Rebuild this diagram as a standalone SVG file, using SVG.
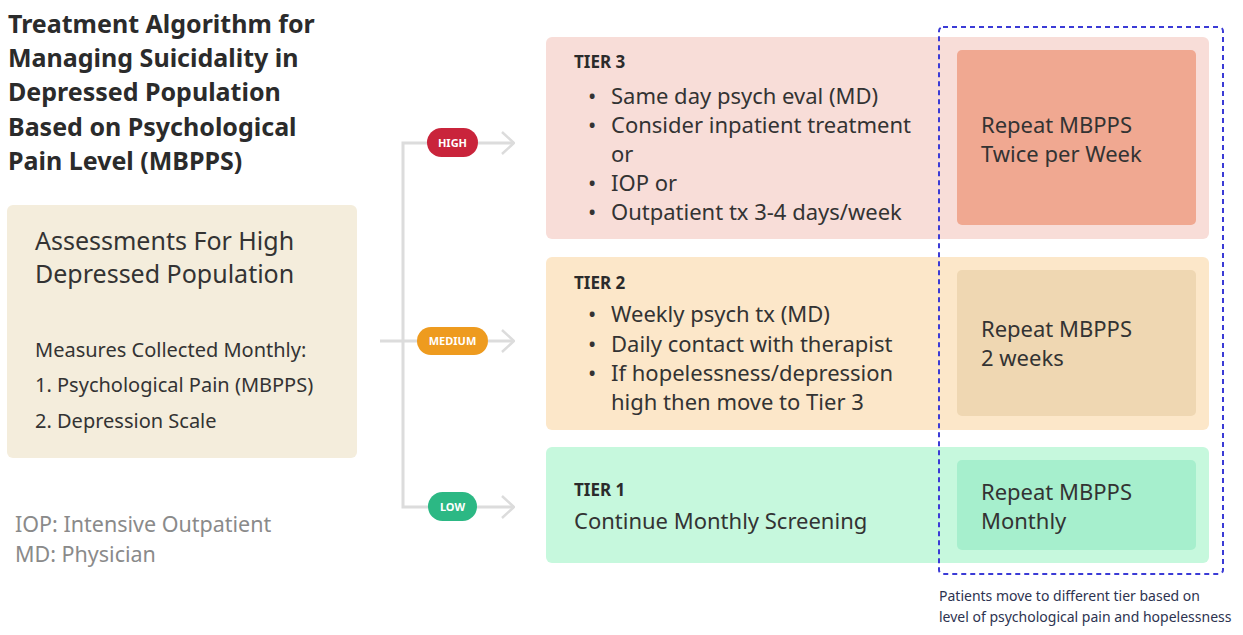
<svg xmlns="http://www.w3.org/2000/svg" width="1243" height="635" viewBox="0 0 1243 635">
<defs>
<style>
text{font-family:"Noto Sans","Open Sans","DejaVu Sans",sans-serif;fill:#333}
.title{font-size:25px;font-weight:700;fill:#2b2b2b}
.big{font-size:25px}
.mid{font-size:20px}
.legend{font-size:21.5px;fill:#8a8a8a}
.tier{font-size:17px;font-weight:700;fill:#2b2b2b}
.item{font-size:22px}
.pill{font-size:11px;font-weight:700;fill:#fff}
.foot{font-size:14px;fill:#2d3350}
.conn{stroke:#dcdcdc;stroke-width:3;fill:none}
</style>
<marker id="arr" viewBox="0 0 14 24" refX="13" refY="12" markerWidth="14" markerHeight="24" markerUnits="userSpaceOnUse" orient="auto">
<path d="M1,1 L13,12 L1,23" fill="none" stroke="#dcdcdc" stroke-width="2.5"/>
</marker>
</defs>
<rect width="1243" height="635" fill="#fff"/>

<g id="title">
<text class="title" x="8" y="33">Treatment Algorithm for</text>
<text class="title" x="8" y="67">Managing Suicidality in</text>
<text class="title" x="8" y="101">Depressed Population</text>
<text class="title" x="8" y="136">Based on Psychological</text>
<text class="title" x="8" y="170">Pain Level (MBPPS)</text>
</g>

<g id="assessment">
<rect x="7" y="205" width="350" height="253" rx="6" fill="#f4eddc"/>
<text class="big" x="35" y="250">Assessments For High</text>
<text class="big" x="35" y="283">Depressed Population</text>
<text class="mid" x="35" y="357">Measures Collected Monthly:</text>
<text class="mid" x="35" y="392">1. Psychological Pain (MBPPS)</text>
<text class="mid" x="35" y="428">2. Depression Scale</text>
</g>

<g id="legend">
<text class="legend" x="15" y="532">IOP: Intensive Outpatient</text>
<text class="legend" x="15" y="562">MD: Physician</text>
</g>

<g id="connectors">
<line class="conn" x1="380" y1="341" x2="420" y2="341"/>
<polyline class="conn" points="428,143 403,143 403,507 428,507"/>
<line class="conn" x1="478" y1="143" x2="514" y2="143" marker-end="url(#arr)"/>
<line class="conn" x1="488" y1="341" x2="514" y2="341" marker-end="url(#arr)"/>
<line class="conn" x1="477" y1="507" x2="514" y2="507" marker-end="url(#arr)"/>
</g>

<g id="pill-high">
<rect x="427" y="128" width="51" height="29" rx="14.5" fill="#c9243b"/>
<text class="pill" x="452.5" y="147" text-anchor="middle">HIGH</text>
</g>
<g id="pill-medium">
<rect x="417" y="327" width="71" height="28" rx="14" fill="#ee9b1f"/>
<text class="pill" x="452.5" y="345" text-anchor="middle">MEDIUM</text>
</g>
<g id="pill-low">
<rect x="428" y="492" width="49" height="29" rx="14.5" fill="#2cb884"/>
<text class="pill" x="452.5" y="511" text-anchor="middle">LOW</text>
</g>

<g id="tier3">
<rect x="546" y="37" width="663" height="202" rx="6" fill="#f8ddd8"/>
<text class="tier" x="574" y="68">TIER 3</text>
<text class="item" x="588" y="104">•</text><text class="item" x="611" y="104">Same day psych eval (MD)</text>
<text class="item" x="588" y="133">•</text><text class="item" x="611" y="133">Consider inpatient treatment</text>
<text class="item" x="611" y="162">or</text>
<text class="item" x="588" y="191">•</text><text class="item" x="611" y="191">IOP or</text>
<text class="item" x="588" y="220">•</text><text class="item" x="611" y="220">Outpatient tx 3-4 days/week</text>
<rect x="957" y="50" width="239" height="175" rx="5" fill="#f0a891"/>
<text class="item" x="981" y="133">Repeat MBPPS</text>
<text class="item" x="981" y="162">Twice per Week</text>
</g>

<g id="tier2">
<rect x="546" y="257" width="663" height="173" rx="6" fill="#fce7c9"/>
<text class="tier" x="574" y="289">TIER 2</text>
<text class="item" x="588" y="322">•</text><text class="item" x="611" y="322">Weekly psych tx (MD)</text>
<text class="item" x="588" y="352">•</text><text class="item" x="611" y="352">Daily contact with therapist</text>
<text class="item" x="588" y="381">•</text><text class="item" x="611" y="381">If hopelessness/depression</text>
<text class="item" x="611" y="410">high then move to Tier 3</text>
<rect x="957" y="270" width="239" height="146" rx="5" fill="#efd7b2"/>
<text class="item" x="981" y="337">Repeat MBPPS</text>
<text class="item" x="981" y="366">2 weeks</text>
</g>

<g id="tier1">
<rect x="546" y="447" width="663" height="116" rx="6" fill="#c6f8dd"/>
<text class="tier" x="574" y="496">TIER 1</text>
<text class="item" x="574" y="529">Continue Monthly Screening</text>
<rect x="957" y="460" width="239" height="90" rx="5" fill="#a6efcd"/>
<text class="item" x="981" y="500">Repeat MBPPS</text>
<text class="item" x="981" y="529">Monthly</text>
</g>

<g id="repeat-group">
<rect x="939" y="27" width="284" height="547" rx="4" fill="none" stroke="#3b3bd6" stroke-width="2" stroke-dasharray="5 4"/>
<text class="foot" x="939" y="601">Patients move to different tier based on</text>
<text class="foot" x="939" y="622">level of psychological pain and hopelessness</text>
</g>
</svg>
